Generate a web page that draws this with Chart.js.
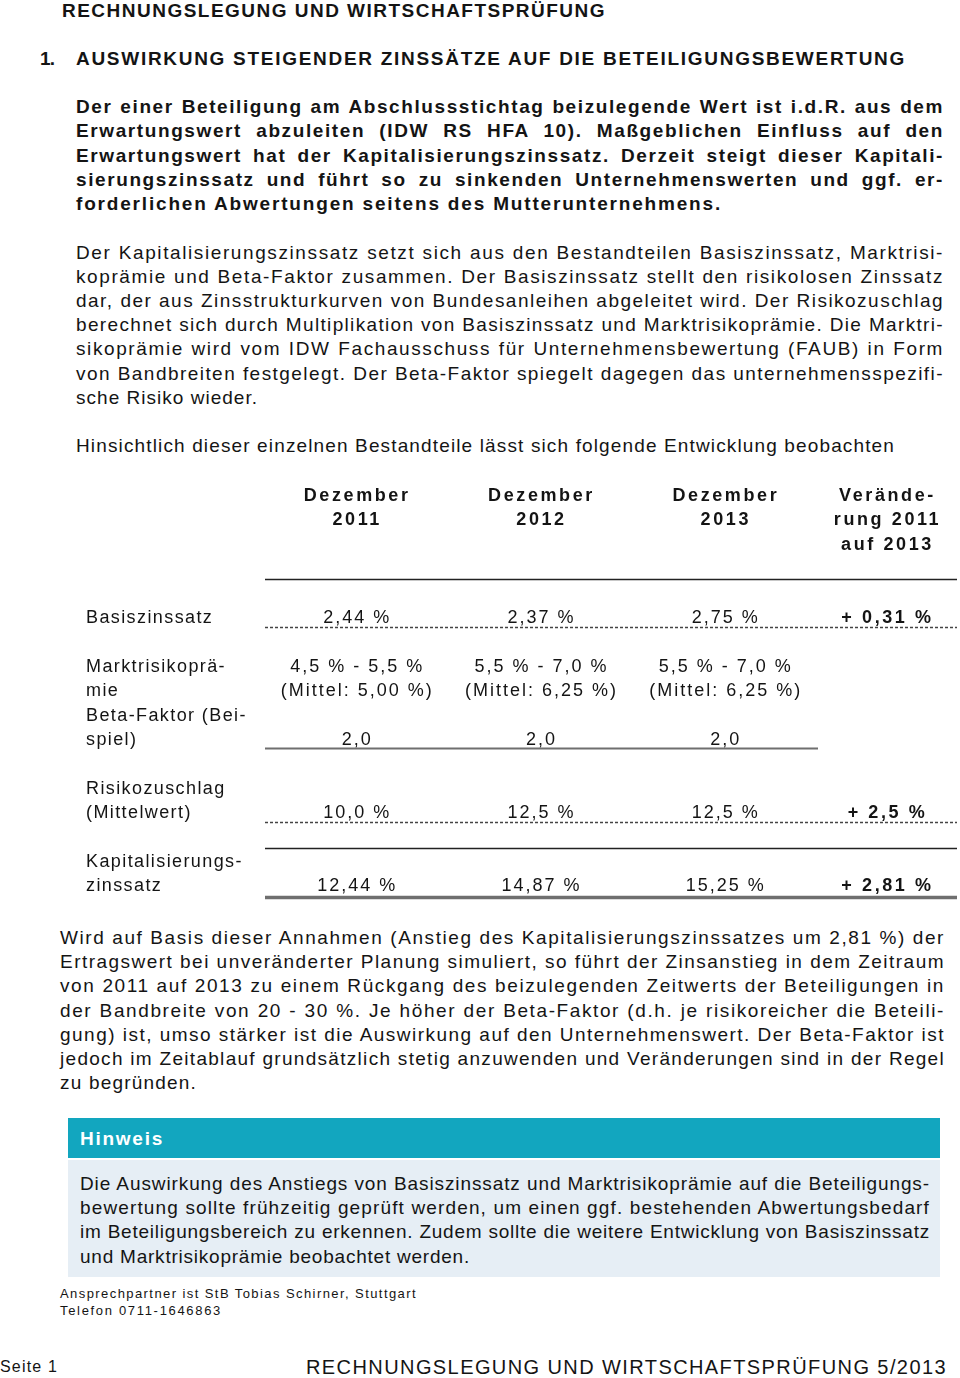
<!DOCTYPE html>
<html lang="de">
<head>
<meta charset="utf-8">
<title>Rechnungslegung und Wirtschaftsprüfung 5/2013</title>
<script src="https://cdn.jsdelivr.net/npm/chart.js@4/dist/chart.umd.min.js"></script>
<style>
  html, body { margin: 0; padding: 0; background: #fff; }
  body { width: 960px; height: 1378px; position: relative; overflow: hidden;
         font-family: "Liberation Sans Narrow", "Arial Narrow", "Liberation Sans", Arial, sans-serif; color: #141414; }
  .ln { position: absolute; white-space: nowrap; }
  #tableBox { position: absolute; left: 0; top: 470px; width: 960px; height: 440px; }
  .box { position: absolute; left: 68px; width: 872px; }
</style>
</head>
<body>
<div class="box" style="top:1118px;height:40px;background:#12a6bf;"></div>
<div class="box" style="top:1160px;height:117px;background:#e6eef5;"></div>
<div id="tableBox"><canvas id="zinsChart"></canvas></div>

<script>
// ─── DATA ──────────────────────────────────────────────────
const years          = ['2011', '2012', '2013'];
const headerTop      = 'Dezember';
const changeHeader   = ['Verände-', 'rung 2011', 'auf 2013'];
const rowLabels      = [['Basiszinssatz'], ['Marktrisikoprä-', 'mie'], ['Beta-Faktor (Bei-', 'spiel)'],
                        ['Risikozuschlag', '(Mittelwert)'], ['Kapitalisierungs-', 'zinssatz']];
const basiszins      = [2.44, 2.37, 2.75];
const mrpLow         = [4.5, 5.5, 5.5];
const mrpHigh        = [5.5, 7.0, 7.0];
const mrpMittel      = [5.00, 6.25, 6.25];
const betaFaktor     = [2.0, 2.0, 2.0];
const risikozuschlag = [10.0, 12.5, 12.5];
const kapZins        = [12.44, 14.87, 15.25];
const changes        = [0.31, null, null, 2.5, 2.81];

// ─── TABLE LAYOUT (text line grid) ─────────────────────────
const LINE     = 24.4;
const rowStart = [5, 7, 9, 12, 15];
const rules    = [
  { at: 3.43,  style: 'solid',  full: true },
  { at: 5.42,  style: 'dotted', full: true },
  { at: 10.37, style: 'grey',   full: false },
  { at: 13.4,  style: 'dotted', full: true },
  { at: 14.47, style: 'solid',  full: true },
  { at: 16.48, style: 'double', full: true },
];

const de  = (v, d) => v.toFixed(d).replace('.', ',');
const pct = (v, d) => `${de(v, d)} %`;

const cellLines = [
  basiszins.map(v => [pct(v, 2)]),
  mrpLow.map((v, i) => [`${pct(v, 1)} - ${pct(mrpHigh[i], 1)}`, `(Mittel: ${pct(mrpMittel[i], 2)})`]),
  betaFaktor.map(v => [de(v, 1)]),
  risikozuschlag.map(v => [pct(v, 1)]),
  kapZins.map(v => [pct(v, 2)]),
];

const tablePlugin = {
  id: 'zinsTable',
  afterDraw(chart) {
    const { ctx, chartArea } = chart;
    const { x, y } = chart.scales;
    const edge = chart.width - 3;
    const colX = i => i < years.length ? x.getPixelForValue(i) : (chartArea.right + edge) / 2;
    const base = L => y.getPixelForValue(L) + 6;

    const txt = (s, px, L, bold, align = 'center') => {
      ctx.font = `${bold ? 'bold ' : ''}18px "Liberation Sans", Arial, sans-serif`;
      ctx.letterSpacing = bold ? '2.6px' : (align === 'left' ? '1.4px' : '2px');
      ctx.fillStyle = '#141414';
      ctx.textAlign = align;
      ctx.textBaseline = 'alphabetic';
      ctx.fillText(s, px, base(L));
    };

    ctx.save();
    // headers
    years.forEach((yr, i) => { txt(headerTop, colX(i), 0, true); txt(yr, colX(i), 1, true); });
    changeHeader.forEach((s, k) => txt(s, colX(3), k, true));

    // rows
    rowLabels.forEach((lbl, r) => {
      lbl.forEach((s, k) => txt(s, 86, rowStart[r] + k, false, 'left'));
      cellLines[r].forEach((lines, c) => {
        const first = rowStart[r] + lbl.length - lines.length;
        lines.forEach((s, k) => txt(s, colX(c), first + k, false));
      });
      if (changes[r] != null) {
        const last = rowStart[r] + lbl.length - 1;
        txt(`+ ${de(changes[r], changes[r] < 1 || r === 4 ? 2 : 1)} %`, colX(3), last, true);
      }
    });

    // rules
    rules.forEach(rl => {
      const yy = Math.round(y.getPixelForValue(rl.at)) + 0.5;
      const x1 = rl.full ? edge : chartArea.right;
      ctx.beginPath();
      ctx.setLineDash(rl.style === 'dotted' ? [3, 2] : []);
      ctx.strokeStyle = rl.style === 'solid' ? '#222' : (rl.style === 'dotted' ? '#444' : '#6f6f6f');
      ctx.lineWidth = rl.style === 'double' ? 3.5 : (rl.style === 'grey' ? 2.2 : 1.4);
      ctx.moveTo(chartArea.left, yy);
      ctx.lineTo(x1, yy);
      ctx.stroke();
    });
    ctx.restore();
  },
};

new Chart(document.getElementById('zinsChart'), {
  type: 'bar',
  data: { labels: years, datasets: [] },
  options: {
    responsive: true,
    maintainAspectRatio: false,
    animation: false,
    events: [],
    layout: { padding: { left: 265, right: 142, top: 0, bottom: 0 } },
    plugins: { legend: { display: false }, tooltip: { enabled: false } },
    scales: {
      x: { type: 'category', display: false, offset: true },
      y: { type: 'linear', display: false, reverse: true, min: -25 / LINE, max: 415 / LINE },
    },
  },
  plugins: [tablePlugin],
});

// ─── PAGE TEXT ─────────────────────────────────────────────
// [text, left, centre y, width, options]  j = justified, b = bold
const B = { b: true }, J = { j: true }, BJ = { b: true, j: true };
const textLines = [
  ['RECHNUNGSLEGUNG UND WIRTSCHAFTSPRÜFUNG', 62, 11, 544, B],
  ['1.', 40, 59, 14, B],
  ['AUSWIRKUNG STEIGENDER ZINSSÄTZE AUF DIE BETEILIGUNGSBEWERTUNG', 76, 59, 830, B],

  ['Der einer Beteiligung am Abschlussstichtag beizulegende Wert ist i.d.R. aus dem', 76, 107, 868, BJ],
  ['Erwartungswert abzuleiten (IDW RS HFA 10). Maßgeblichen Einfluss auf den', 76, 131, 868, BJ],
  ['Erwartungswert hat der Kapitalisierungszinssatz. Derzeit steigt dieser Kapitali-', 76, 156, 868, BJ],
  ['sierungszinssatz und führt so zu sinkenden Unternehmenswerten und ggf. er-', 76, 180, 868, BJ],
  ['forderlichen Abwertungen seitens des Mutterunternehmens.', 76, 204, 646, B],

  ['Der Kapitalisierungszinssatz setzt sich aus den Bestandteilen Basiszinssatz, Marktrisi-', 76, 253, 868, J],
  ['koprämie und Beta-Faktor zusammen. Der Basiszinssatz stellt den risikolosen Zinssatz', 76, 277, 868, J],
  ['dar, der aus Zinsstrukturkurven von Bundesanleihen abgeleitet wird. Der Risikozuschlag', 76, 301, 868, J],
  ['berechnet sich durch Multiplikation von Basiszinssatz und Marktrisikoprämie. Die Marktri-', 76, 325, 868, J],
  ['sikoprämie wird vom IDW Fachausschuss für Unternehmensbewertung (FAUB) in Form', 76, 349, 868, J],
  ['von Bandbreiten festgelegt. Der Beta-Faktor spiegelt dagegen das unternehmensspezifi-', 76, 374, 868, J],
  ['sche Risiko wieder.', 76, 398, 182, {}],

  ['Hinsichtlich dieser einzelnen Bestandteile lässt sich folgende Entwicklung beobachten', 76, 446, 819, {}],

  ['Wird auf Basis dieser Annahmen (Anstieg des Kapitalisierungszinssatzes um 2,81 %) der', 60, 938, 885, J],
  ['Ertragswert bei unveränderter Planung simuliert, so führt der Zinsanstieg in dem Zeitraum', 60, 962, 885, J],
  ['von 2011 auf 2013 zu einem Rückgang des beizulegenden Zeitwerts der Beteiligungen in', 60, 986, 885, J],
  ['der Bandbreite von 20 - 30 %. Je höher der Beta-Faktor (d.h. je risikoreicher die Beteili-', 60, 1011, 885, J],
  ['gung) ist, umso stärker ist die Auswirkung auf den Unternehmenswert. Der Beta-Faktor ist', 60, 1035, 885, J],
  ['jedoch im Zeitablauf grundsätzlich stetig anzuwenden und Veränderungen sind in der Regel', 60, 1059, 885, J],
  ['zu begründen.', 60, 1083, 137, {}],

  ['Hinweis', 80, 1139, 84, { b: true, color: '#fff' }],
  ['Die Auswirkung des Anstiegs von Basiszinssatz und Marktrisikoprämie auf die Beteiligungs-', 80, 1184, 850, J],
  ['bewertung sollte frühzeitig geprüft werden, um einen ggf. bestehenden Abwertungsbedarf', 80, 1208, 850, J],
  ['im Beteiligungsbereich zu erkennen. Zudem sollte die weitere Entwicklung von Basiszinssatz', 80, 1232, 850, J],
  ['und Marktrisikoprämie beobachtet werden.', 80, 1257, 390, {}],

  ['Ansprechpartner ist StB Tobias Schirner, Stuttgart', 60, 1294, 357, { size: 13 }],
  ['Telefon 0711-1646863', 60, 1311, 162, { size: 13 }],
  ['Seite 1', 0, 1367, 58, { size: 16 }],
  ['RECHNUNGSLEGUNG UND WIRTSCHAFTSPRÜFUNG 5/2013', 306, 1367, 641, { size: 20 }],
];

function placeLine([text, left, cy, width, opt]) {
  const size = opt.size || 19;
  const el = document.createElement('div');
  el.className = 'ln';
  el.textContent = text;
  el.style.fontSize = size + 'px';
  el.style.lineHeight = size + 'px';
  el.style.fontWeight = opt.b ? 'bold' : 'normal';
  if (opt.color) el.style.color = opt.color;
  el.style.left = left + 'px';
  el.style.top = (cy - 0.5165 * size) + 'px';
  document.body.appendChild(el);

  const w0 = el.getBoundingClientRect().width;
  const n = [...text].length;
  if (opt.j) {
    const spaces = (text.match(/ /g) || []).length;
    const ls = Math.min(1.6, (width - w0) / n);
    el.style.letterSpacing = ls + 'px';
    if (spaces) el.style.wordSpacing = ((width - w0 - n * ls) / spaces) + 'px';
  } else {
    el.style.letterSpacing = ((width - w0) / n) + 'px';
  }
}

textLines.forEach(placeLine);
</script>
</body>
</html>
